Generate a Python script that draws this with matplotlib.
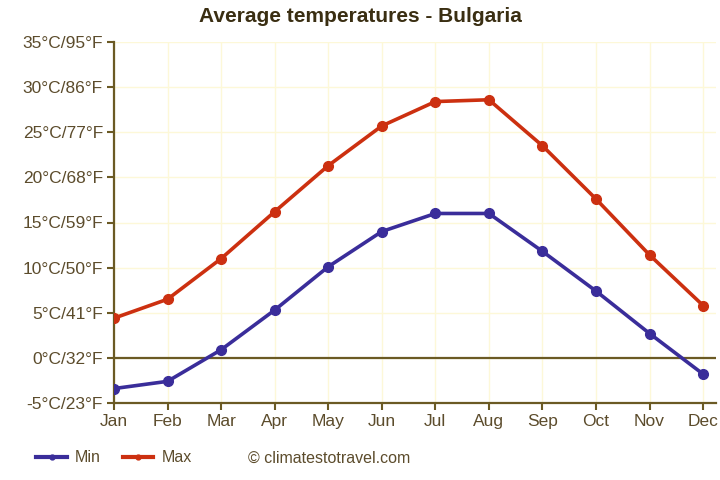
import matplotlib
matplotlib.use("Agg")
import matplotlib.pyplot as plt

months = ["Jan", "Feb", "Mar", "Apr", "May", "Jun", "Jul", "Aug", "Sep", "Oct", "Nov", "Dec"]
t_min = [-3.4, -2.6, 0.9, 5.3, 10.1, 14.0, 16.0, 16.0, 11.8, 7.4, 2.7, -1.8]
t_max = [4.4, 6.5, 11.0, 16.2, 21.3, 25.7, 28.4, 28.6, 23.5, 17.6, 11.4, 5.8]
y_ticks = [-5, 0, 5, 10, 15, 20, 25, 30, 35]
y_labels = [f"{c}°C/{round(c * 9 / 5 + 32)}°F" for c in y_ticks]

axis_col = "#6b5a24"
text_col = "#5c4c2c"
min_col = "#3a2d9a"
max_col = "#cc3010"

plt.rcParams["font.family"] = ["Liberation Sans", "DejaVu Sans"]

fig = plt.figure(figsize=(7.2, 4.8), dpi=100)
ax = fig.add_axes([114 / 720, 1 - 403 / 480, (716 - 114) / 720, (403 - 42) / 480])

x = list(range(len(months)))
ax.plot(x, t_min, color=min_col, lw=2.6, marker="o", ms=7, label="Min", zorder=3)
ax.plot(x, t_max, color=max_col, lw=2.6, marker="o", ms=7, label="Max", zorder=3)
ax.axhline(0, color=axis_col, lw=1.6, zorder=2)

ax.set_xlim(0, 11.24)
ax.set_ylim(-5, 35)
ax.set_xticks(x)
ax.set_xticklabels(months)
ax.set_yticks(y_ticks)
ax.set_yticklabels(y_labels)
ax.grid(True, color="#fdf8d8", lw=1)
ax.set_axisbelow(True)

for side in ["top", "right"]:
    ax.spines[side].set_visible(False)
for side in ["left", "bottom"]:
    ax.spines[side].set_color(axis_col)
    ax.spines[side].set_linewidth(1.6)
ax.tick_params(colors=axis_col, labelcolor=text_col, labelsize=12.5, length=5, width=1.5)
ax.tick_params(axis="y", pad=3)
ax.tick_params(axis="x", pad=3)

fig.text(0.5, 1 - 17 / 480, "Average temperatures - Bulgaria", ha="center", va="center",
         fontsize=15, fontweight="bold", color="#3a2e12")

leg = fig.legend(loc="center left", bbox_to_anchor=(22 / 720, 1 - 458 / 480), ncol=2,
                 frameon=False, fontsize=11.5, handlelength=1.9, handletextpad=0.5,
                 columnspacing=1.4, markerscale=0.5, labelcolor=text_col)
for h in leg.legend_handles:
    h.set_linewidth(3)
fig.text(248 / 720, 1 - 458 / 480, "© climatestotravel.com", ha="left", va="center",
         fontsize=11.5, color=text_col)

fig.savefig("out.png", dpi=100)
